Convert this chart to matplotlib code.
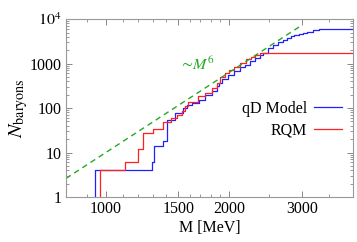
#Baryon counting plot: cumulative number of states vs mass

#Imports
import matplotlib
matplotlib.use("Agg")
import matplotlib.pyplot as plt
import matplotlib.ticker as mticker
import numpy as np

#Data
rqm_mass = [800, 967, 1112, 1195, 1234, 1303, 1380, 1439, 1489, 1531, 1560, 1589,
            1679, 1746, 1813, 1866, 1900, 1950, 2000, 2050, 2127, 2200, 2260,
            2314, 2370, 2420, 4000]
rqm_count = [0, 4, 6, 12, 28, 34, 48, 60, 70, 87, 110, 140,
             183, 220, 280, 370, 490, 600, 720, 850, 1040, 1250, 1420,
             1600, 1690, 1760, 1760]

qd_mass = [800, 940, 1293, 1310, 1375, 1407, 1475, 1543, 1575, 1620, 1690, 1746,
           1813, 1866, 1890, 1920, 1980, 2046, 2120, 2188, 2250, 2314, 2370,
           2420, 2480, 2560, 2630, 2700, 2760, 2818, 2880, 2950, 3020, 3096,
           3200, 3300, 4000]
qd_count = [0, 4, 6, 14, 18, 55, 77, 100, 120, 130, 155, 200,
            240, 310, 370, 460, 560, 670, 820, 950, 1150, 1360, 1550,
            1760, 2200, 2570, 3000, 3400, 3800, 4150, 4400, 4700, 5000, 5250,
            5700, 6100, 6100]

#~M^6 guide line
guide_mass = [800, 3000]
guide_norm = 10.0  # N at M = 1000 MeV

x_ticks = [1000, 1500, 2000, 3000]
x_minor = [800, 900, 1100, 1200, 1300, 1400, 1600, 1700, 1800, 1900, 2500, 3500]
y_ticks = [1, 10, 100, 1000, 10000]
y_labels = ["1", "10", "100", "1000", "$10^4$"]

#Style
plt.rcParams["font.family"] = ["Liberation Serif", "DejaVu Serif"]
plt.rcParams["mathtext.fontset"] = "stix"
plt.rcParams["font.size"] = 11.5

fig = plt.figure(figsize=(3.57, 2.42), dpi=100)
ax = fig.add_axes([0.185, 0.186, 0.804, 0.735])

ax.step(qd_mass, qd_count, where="post", color="#2020ff", lw=0.9, label="qD Model")
ax.step(rqm_mass, rqm_count, where="post", color="#ff2020", lw=0.9, label="RQM")

gm = np.array(guide_mass, dtype=float)
ax.plot(gm, guide_norm * (gm / 1000.0) ** 6, color="#22aa22", lw=1.0,
        dashes=(4, 3))
ax.text(1670, 900, r"$\sim\!M^6$", color="#22aa22", ha="center", va="center",
        fontsize=11.5)

ax.set_xscale("log")
ax.set_yscale("log")
ax.set_xlim(800, 4000)
ax.set_ylim(1, 10000)

ax.xaxis.set_major_locator(mticker.FixedLocator(x_ticks))
ax.xaxis.set_major_formatter(mticker.FixedFormatter([str(t) for t in x_ticks]))
ax.xaxis.set_minor_locator(mticker.FixedLocator(x_minor))
ax.xaxis.set_minor_formatter(mticker.NullFormatter())
ax.yaxis.set_major_locator(mticker.FixedLocator(y_ticks))
ax.yaxis.set_major_formatter(mticker.FixedFormatter(y_labels))

ax.tick_params(which="both", direction="in", top=True, right=True, color="#888888")
ax.tick_params(which="major", length=4, width=0.7, pad=3)
ax.tick_params(which="minor", length=2, width=0.6)
for sp in ax.spines.values():
    sp.set_color("#999999")
    sp.set_linewidth(0.8)

ax.set_xlabel("M [MeV]", labelpad=2)
ax.set_ylabel(r"$N_{\mathrm{baryons}}$", labelpad=0, fontsize=14.5)

ax.legend(loc="center right", bbox_to_anchor=(0.985, 0.435), frameon=False,
          markerfirst=False, handlelength=1.8, handletextpad=0.4,
          labelspacing=0.35, fontsize=11.5, borderaxespad=0)

fig.savefig("out.png", dpi=100)
